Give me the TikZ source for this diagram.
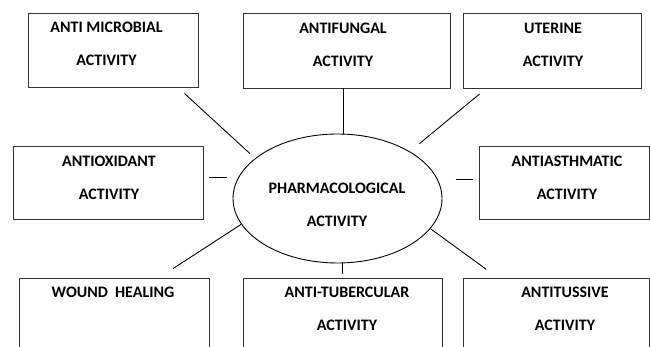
\documentclass[tikz,border=0pt]{standalone}
\usepackage{fontspec}
\setmainfont{Carlito}
\usetikzlibrary{shapes.geometric}

\begin{document}
\begin{tikzpicture}[x=1pt, y=-1pt,
  actbox/.style={draw=black!80, line width=0.9pt, rectangle, inner sep=0pt},
  acttext/.style={align=center, inner sep=0pt, font=\fontsize{16}{33}\selectfont\bfseries},
  spoke/.style={draw=black, line width=0.9pt}]

\clip (0,0) rectangle (650,347);

\node (microbial) [actbox, minimum width=170, minimum height=74] at (113,50) {};
\node (fungal) [actbox, minimum width=207, minimum height=75] at (346.5,50.5) {};
\node (uterine) [actbox, minimum width=178, minimum height=75] at (552,50.5) {};
\node (antiox) [actbox, minimum width=190, minimum height=73] at (108,182.5) {};
\node (asthma) [actbox, minimum width=170, minimum height=73] at (564,182.5) {};
\node (wound) [actbox, minimum width=190, minimum height=75] at (114,315.5) {};
\node (tuber) [actbox, minimum width=199, minimum height=75] at (342.5,315.5) {};
\node (tussive) [actbox, minimum width=186, minimum height=75] at (556,315.5) {};
\node (ell) [ellipse, draw=black, line width=0.9pt, minimum width=209, minimum height=129, inner sep=0pt] at (337.5,198.5) {};

\node (microbial-t) [acttext] at (106.5,43.5) {ANTI MICROBIAL\\ACTIVITY};
\node (fungal-t) [acttext] at (343,45) {ANTIFUNGAL\\ACTIVITY};
\node (uterine-t) [acttext] at (553,44.5) {UTERINE\\ACTIVITY};
\node (antiox-t) [acttext] at (109,178) {ANTIOXIDANT\\ACTIVITY};
\node (asthma-t) [acttext] at (567,177.5) {ANTIASTHMATIC\\ACTIVITY};
\node (wound-t) [acttext] at (113,292) {WOUND~ HEALING};
\node (tuber-t) [acttext] at (347,308.5) {ANTI-TUBERCULAR\\ACTIVITY};
\node (tussive-t) [acttext] at (565,308.5) {ANTITUSSIVE\\ACTIVITY};
\node (ell-t) [acttext] at (337,204.5) {PHARMACOLOGICAL\\ACTIVITY};

%spokes:
\path [spoke]
(microbial.-30) edge [shorten <=9pt, shorten >=7pt] (ell.154)
(ell.85) edge (ell.85 |- fungal.south)
(uterine.210) edge [shorten <=8.6pt, shorten >=12.3pt] (ell.33)
(antiox.east |- ell.168) edge [shorten <=6pt, shorten >=11.7pt] (ell.168)
(ell.11) edge [shorten <=18pt, shorten >=6pt] (ell.11 -| asthma.west)
(wound.40) edge [shorten <=16.5pt] (ell.195)
(ell.-86) edge [shorten >=4pt] (ell.-86 |- tuber.north)
(tussive.147) edge [shorten <=14pt] (ell.-18)
;

\end{tikzpicture}
\end{document}
